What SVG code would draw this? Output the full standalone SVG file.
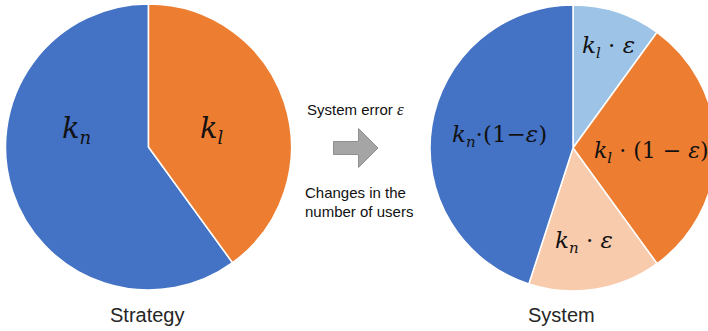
<svg xmlns="http://www.w3.org/2000/svg" width="708" height="331" viewBox="0 0 708 331">
<style>
.sl{stroke:#fff;stroke-width:1.5;stroke-linejoin:round}
.m{font-family:"DejaVu Serif","Liberation Serif",serif;fill:#111}
.i{font-style:italic}
.cap{font-family:"Liberation Sans",Arial,sans-serif;font-size:20px;fill:#262626}
.mid{font-family:"Liberation Sans",Arial,sans-serif;font-size:15px;fill:#111}
</style>
<rect width="708" height="331" fill="#fff"/>
<g id="strategy-pie">
<path class="sl" fill="#4472C4" d="M148.5,147 L232.55,262.69 A143,143 0 1 1 148.5,4 Z"/>
<path class="sl" fill="#ED7D31" d="M148.5,147 L148.5,4 A143,143 0 0 1 232.55,262.69 Z"/>
<text class="m i" x="62" y="138" font-size="29">k<tspan font-size="18" dy="6">n</tspan></text>
<text class="m i" x="200" y="138" font-size="29">k<tspan font-size="18" dy="6">l</tspan></text>
<text class="cap" x="110" y="322">Strategy</text>
</g>
<g id="transition">
<text class="mid" x="307" y="115">System error <tspan class="i" font-family="Liberation Serif, serif" font-size="17">ε</tspan></text>
<path d="M333.5,141.5 H358.5 V128.5 L378,148 L358.5,167.5 V154.5 H333.5 Z" fill="#A5A5A5" stroke="#8F8F8F" stroke-width="1"/>
<text class="mid" x="305" y="198">Changes in the</text>
<text class="mid" x="305" y="217">number of users</text>
</g>
<g id="system-pie">
<path class="sl" fill="#9DC3E6" d="M573,148 L573,5 A143,143 0 0 1 657.05,32.31 Z"/>
<path class="sl" fill="#ED7D31" d="M573,148 L657.05,32.31 A143,143 0 0 1 657.05,263.69 Z"/>
<path class="sl" fill="#F8CBAD" d="M573,148 L657.05,263.69 A143,143 0 0 1 528.81,284 Z"/>
<path class="sl" fill="#4472C4" d="M573,148 L528.81,284 A143,143 0 0 1 573,5 Z"/>
<text class="m" x="582" y="53" font-size="23"><tspan class="i">k</tspan><tspan class="i" font-size="15" dy="5">l</tspan><tspan dy="-5"> · </tspan><tspan class="i">ε</tspan></text>
<text class="m" x="452" y="142" font-size="23"><tspan class="i">k</tspan><tspan class="i" font-size="15" dy="5">n</tspan><tspan dy="-5">·(1−</tspan><tspan class="i">ε</tspan>)</text>
<text class="m" x="594" y="158" font-size="22"><tspan class="i">k</tspan><tspan class="i" font-size="15" dy="5">l</tspan><tspan dy="-5"> · (1 − </tspan><tspan class="i">ε</tspan>)</text>
<text class="m" x="555" y="248" font-size="23"><tspan class="i">k</tspan><tspan class="i" font-size="15" dy="5">n</tspan><tspan dy="-5"> · </tspan><tspan class="i">ε</tspan></text>
<text class="cap" x="528" y="322">System</text>
</g>
</svg>
